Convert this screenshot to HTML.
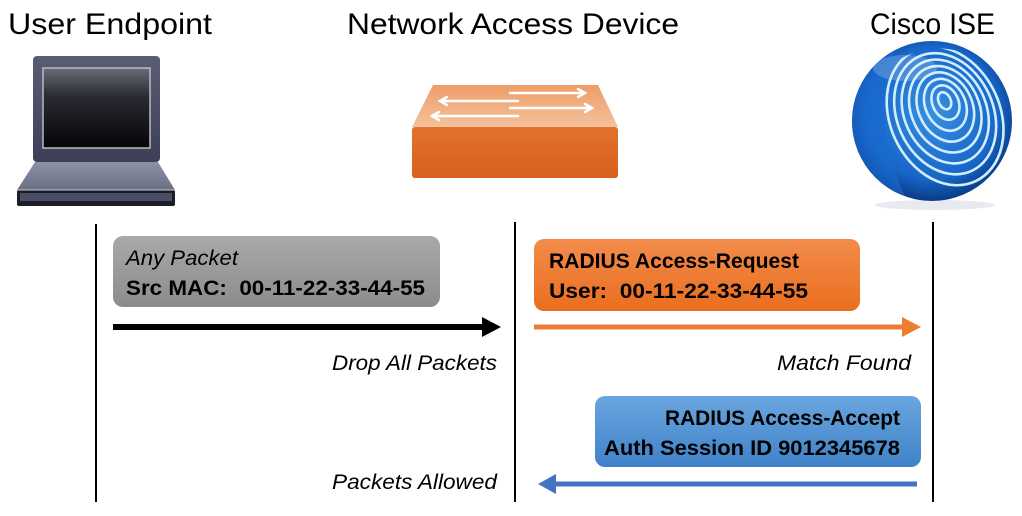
<!DOCTYPE html>
<html><head><meta charset="utf-8"><style>
html,body{margin:0;padding:0;background:#fff;}
svg{display:block;}
text{font-family:"Liberation Sans",sans-serif;}
</style></head><body>
<svg width="1022" height="516" viewBox="0 0 1022 516" xmlns="http://www.w3.org/2000/svg">
<defs>
<linearGradient id="scr" x1="0" y1="0" x2="0" y2="1"><stop offset="0" stop-color="#6a6c78"/><stop offset="0.35" stop-color="#2a2b33"/><stop offset="1" stop-color="#050507"/></linearGradient>
<linearGradient id="lid" x1="0" y1="0" x2="0" y2="1"><stop offset="0" stop-color="#5a5d74"/><stop offset="1" stop-color="#3c3f55"/></linearGradient>
<linearGradient id="base" x1="0" y1="0" x2="0" y2="1"><stop offset="0" stop-color="#8e92a6"/><stop offset="1" stop-color="#6b6f85"/></linearGradient>
<linearGradient id="swtop" x1="0" y1="0" x2="0" y2="1"><stop offset="0" stop-color="#ee9d68"/><stop offset="1" stop-color="#f4c19c"/></linearGradient>
<linearGradient id="swfront" x1="0" y1="0" x2="0" y2="1"><stop offset="0" stop-color="#e0722e"/><stop offset="1" stop-color="#d8601c"/></linearGradient>
<radialGradient id="sph" cx="0.5" cy="0.45" r="0.55"><stop offset="0" stop-color="#3a8fe0"/><stop offset="0.75" stop-color="#1766c8"/><stop offset="1" stop-color="#0a3b86"/></radialGradient>
<linearGradient id="gbox" x1="0" y1="0" x2="0" y2="1"><stop offset="0" stop-color="#a9a9a9"/><stop offset="1" stop-color="#8c8c8c"/></linearGradient>
<linearGradient id="obox" x1="0" y1="0" x2="0" y2="1"><stop offset="0" stop-color="#f28c4c"/><stop offset="1" stop-color="#ea6e1e"/></linearGradient>
<linearGradient id="bbox" x1="0" y1="0" x2="0" y2="1"><stop offset="0" stop-color="#6aa6df"/><stop offset="1" stop-color="#3f82c8"/></linearGradient>
<clipPath id="sc"><circle cx="932" cy="121" r="78"/></clipPath>
</defs>

<text x="8" y="34" font-size="30" textLength="204" lengthAdjust="spacingAndGlyphs" fill="#000">User Endpoint</text>
<text x="347" y="34" font-size="30" textLength="332" lengthAdjust="spacingAndGlyphs" fill="#000">Network Access Device</text>
<text x="870" y="34" font-size="30" textLength="125" lengthAdjust="spacingAndGlyphs" fill="#000">Cisco ISE</text>

<rect x="33" y="56" width="127" height="106" rx="4" fill="url(#lid)"/>
<rect x="43" y="68" width="107" height="80" fill="url(#scr)" stroke="#b8bac4" stroke-width="1.5"/>
<polygon points="35,162 158,162 175,190 17,190" fill="url(#base)"/>
<rect x="17" y="190" width="158" height="16" rx="2" fill="#1c1d26"/>
<rect x="20" y="193" width="152" height="8" fill="#4a4d66"/>
<line x1="18" y1="190" x2="174" y2="190" stroke="#c8cad6" stroke-width="1"/>

<polygon points="433,85 598,85 618,127 412,127" fill="url(#swtop)"/>
<rect x="412" y="127" width="206" height="51" rx="3" fill="url(#swfront)"/>
<g stroke="#fff" stroke-width="2.5" fill="none" stroke-linecap="round">
<line x1="510" y1="93" x2="585" y2="93"/><polyline points="578,89 585,93 578,97"/>
<line x1="440" y1="101" x2="518" y2="101"/><polyline points="447,97 440,101 447,105"/>
<line x1="510" y1="108" x2="592" y2="108"/><polyline points="585,104 592,108 585,112"/>
<line x1="432" y1="116" x2="518" y2="116"/><polyline points="439,112 432,116 439,120"/>
</g>

<ellipse cx="935" cy="205" rx="60" ry="5" fill="#dde2ea" opacity="0.7"/>
<circle cx="932" cy="121" r="80" fill="url(#sph)"/>
<g clip-path="url(#sc)" fill="none" stroke="#cfeeff" stroke-width="2.6" transform="rotate(-25 948 108)">
<ellipse cx="948" cy="100" rx="6" ry="9"/>
<ellipse cx="948" cy="102" rx="13" ry="18"/>
<ellipse cx="947" cy="104" rx="20" ry="27"/>
<ellipse cx="946" cy="106" rx="27" ry="36"/>
<ellipse cx="945" cy="108" rx="34" ry="45"/>
<ellipse cx="944" cy="110" rx="41" ry="54"/>
<ellipse cx="943" cy="112" rx="48" ry="63"/>
<ellipse cx="942" cy="114" rx="55" ry="72"/>
</g>
<path d="M852,121 A80,80 0 0 1 895,50 Q870,120 905,196 A80,80 0 0 1 852,121Z" fill="#1a6ad0" opacity="0.6"/>
<ellipse cx="905" cy="68" rx="32" ry="13" fill="#fff" opacity="0.2"/>

<line x1="96" y1="224" x2="96" y2="502" stroke="#000" stroke-width="2"/>
<line x1="515" y1="222" x2="515" y2="502" stroke="#000" stroke-width="2"/>
<line x1="933" y1="222" x2="933" y2="502" stroke="#000" stroke-width="2"/>

<rect x="113" y="236" width="327" height="71" rx="10" fill="url(#gbox)"/>
<text x="126" y="265" font-size="21" font-style="italic" textLength="112" lengthAdjust="spacingAndGlyphs">Any Packet</text>
<text x="126" y="295" font-size="21" font-weight="bold" textLength="299" lengthAdjust="spacingAndGlyphs">Src MAC:&#160; 00-11-22-33-44-55</text>
<line x1="113" y1="327" x2="484" y2="327" stroke="#000" stroke-width="6"/>
<polygon points="482,317 501,327 482,337" fill="#000"/>
<text x="332" y="370" font-size="21" font-style="italic" textLength="165" lengthAdjust="spacingAndGlyphs">Drop All Packets</text>

<rect x="534" y="239" width="326" height="72" rx="10" fill="url(#obox)"/>
<text x="549" y="268" font-size="21" font-weight="bold" textLength="250" lengthAdjust="spacingAndGlyphs">RADIUS Access-Request</text>
<text x="549" y="298" font-size="21" font-weight="bold" textLength="259" lengthAdjust="spacingAndGlyphs">User:&#160; 00-11-22-33-44-55</text>
<line x1="534" y1="327" x2="904" y2="327" stroke="#ed7d31" stroke-width="5"/>
<polygon points="902,317 921,327 902,337" fill="#ed7d31"/>
<text x="777" y="370" font-size="21" font-style="italic" textLength="134" lengthAdjust="spacingAndGlyphs">Match Found</text>

<rect x="595" y="396" width="326" height="71" rx="10" fill="url(#bbox)"/>
<text x="665" y="425" font-size="21" font-weight="bold" textLength="235" lengthAdjust="spacingAndGlyphs">RADIUS Access-Accept</text>
<text x="604" y="455" font-size="21" font-weight="bold" textLength="296" lengthAdjust="spacingAndGlyphs">Auth Session ID 9012345678</text>
<line x1="554" y1="484" x2="917" y2="484" stroke="#4472c4" stroke-width="5"/>
<polygon points="556,474 538,484 556,494" fill="#4472c4"/>
<text x="332" y="489" font-size="21" font-style="italic" textLength="165" lengthAdjust="spacingAndGlyphs">Packets Allowed</text>
</svg>
</body></html>
